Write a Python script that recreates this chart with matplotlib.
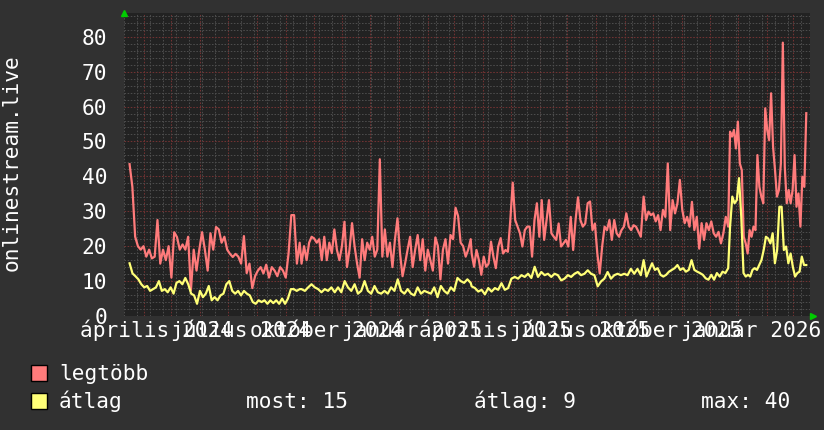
import numpy as np
import pandas as pd
import matplotlib
matplotlib.use("Agg")
import matplotlib.pyplot as plt
from matplotlib.patches import Rectangle

# --- data (5 time stretches, values evenly spaced inside each) ---

seg_edges = [
    ("2024-03-17", "2024-09-16"),
    ("2024-09-18", "2025-03-19"),
    ("2025-03-20", "2025-09-18"),
    ("2025-09-21", "2025-12-21"),
    ("2025-12-23", "2026-03-15"),
]

max_s1 = [43.5, 37, 22.7, 20, 19, 20, 17, 19, 16.5, 17, 27.5, 15, 19, 16, 20, 11, 24, 22.6,
          19, 20.5, 19, 22.7, 7.4, 19, 13, 19, 24, 19, 13, 23.7, 19, 25.5, 24.8, 21, 22.7,
          19, 17.8, 16.9, 17.8, 17, 15, 22.9, 12.3, 15, 8, 11.4, 13, 14, 12.2, 14.7, 11, 14,
          13, 11.4, 14, 13, 11, 17.8, 28.9, 28.9, 15, 21]
max_s2 = [15, 20, 16, 21, 22.7, 22.2, 21, 22, 16, 22.7, 16, 21, 18, 24.8, 19, 16, 20, 27, 14,
          19, 26.6, 20, 15, 11, 22, 16, 21, 19, 22.7, 17, 19, 44.9, 17, 24.8, 17, 21, 14, 22,
          28, 18, 11.4, 15, 19, 22.7, 14, 19, 23.2, 16, 22, 13, 19, 16, 13, 22.5, 20, 10.5,
          19, 22, 15, 23.2, 22, 31, 28.6, 21, 20, 17, 19, 22]
max_s3 = [17.9, 14.1, 18.9, 16, 11.8, 17, 14.1, 15, 21.3, 17, 13.7, 19.9, 22.3, 17.9, 18.9,
          18.4, 27.5, 38.2, 27.5, 25.6, 23.7, 19.9, 24.6, 25.6, 25.6, 17, 27.5, 32.3, 22.7,
          33.2, 21.8, 27.5, 33.2, 23.7, 22.7, 21.8, 26.5, 19.9, 20.8, 21.8, 19.9, 28.4, 18.9,
          27.5, 34, 27.5, 25.6, 26.5, 32.3, 32.8, 24.6, 26.5, 17.9, 12.2, 19.9, 25.6, 24.6,
          27.5, 21.8, 27.5, 23.7, 22.7, 24.6, 25.6, 29.4, 25.6, 24.6, 26, 25.6, 24.2, 22.7]
max_s4 = [34.2, 27.5, 29.9, 28.9, 29.4, 27.1, 28.9, 24.6, 30.4, 28.4, 43.7, 24.6, 33.2, 29.4,
          32.3, 39, 30.4, 26.6, 28.4, 25.6, 32.7, 24.6, 28.4, 19.3, 26.6, 21.8, 26.6, 24.6,
          27.1, 23.7, 22.7, 24.1, 20.8, 23.7, 28.4, 25.6]
max_s5 = [52.8, 51.4, 53.3, 48, 55.7, 43.7, 41.8, 22.7, 20.8, 17.9, 24.6, 22.7, 25.6, 24.6,
          46.1, 37, 34.2, 32.3, 59.5, 53.3, 50.4, 63.8, 48.5, 41.8, 34.2, 36.1, 43.7, 78.3,
          42.8, 32.3, 36.1, 32.3, 36.1, 46.1, 31.3, 35.1, 25.6, 39.9, 37, 58.1]

avg_s1 = [15.1, 12.2, 11.4, 10.5, 9.1, 8.2, 8.6, 7.2, 7.7, 8.2, 10, 7.2, 7.7, 6.8, 8.2, 6.4,
          9.5, 10, 9.1, 10.9, 9.1, 6.4, 5.9, 3.5, 7.2, 5.4, 6.4, 8.6, 4.5, 5.4, 4.5, 5.9, 6.4,
          9.1, 10, 7.2, 6.4, 7.2, 5.9, 7.2, 6.4, 5.9, 4, 3.5, 4.5, 4, 4.5, 3.5, 4.5, 3.7, 4.5,
          3.5, 5, 3.5, 5, 7.7, 7.7, 7.2, 7.7]
avg_s2 = [7.7, 7.2, 8.2, 9.1, 8.2, 7.7, 6.8, 7.7, 7.2, 8.2, 6.8, 8.2, 6.8, 10, 8.2, 7.2, 9.1,
          6.4, 7.2, 10, 7.2, 6.4, 8.6, 6.8, 6.4, 7.2, 6.4, 8.2, 7.2, 10.5, 7.2, 6.4, 7.7, 6.4,
          5.9, 8.2, 6.4, 7.2, 6.8, 6.4, 8.2, 5.4, 8.6, 7.2, 6.4, 8.2, 7.2, 10.9, 10, 9.5, 10.5,
          9.5]
avg_s3 = [8.5, 8, 7, 7.5, 6.2, 8, 7, 8, 7.5, 9.4, 7.5, 8, 10.7, 11.2, 10.7, 11.7, 11.2, 12.1,
          10.9, 14.1, 11.2, 12.6, 11.7, 12.1, 11.2, 12.1, 11.7, 10.2, 10.7, 11.7, 11.2, 12.1,
          12.6, 11.7, 12.1, 13.1, 12.1, 11.7, 8.5, 9.9, 10.7, 12.6, 10.7, 11.7, 12.1, 11.7,
          12.1, 11.7, 13.5, 12.1, 13.5, 11.7]
avg_s4 = [16, 11.3, 13.2, 15.1, 13.2, 13.7, 11.8, 11.3, 11.8, 12.7, 13.2, 13.7, 14.6, 13.2,
          13.7, 12.7, 13.2, 16, 13.2, 12.7, 12.3, 11.8, 10.8, 10.4, 11.8, 10.4, 12.3, 11.3,
          12.7, 12.3, 13.7]
avg_s5 = [25.6, 34.2, 32.3, 33.2, 39.5, 28.4, 12.3, 11.3, 11.8, 11.3, 13.2, 13.7, 13.2, 14.6,
          16, 18.9, 22.7, 22.2, 20.8, 23.7, 15.1, 18.9, 31.3, 31.3, 18.9, 19.9, 15.1, 17.9,
          14.1, 11.3, 12.3, 12.7, 17, 14.6, 14.6]

month_labels = ["április 2024", "július 2024", "október 2024", "január 2025",
                "április 2025", "július 2025", "október 2025", "január 2026"]
label_months = ["2024-04-01", "2024-07-01", "2024-10-01", "2025-01-01",
                "2025-04-01", "2025-07-01", "2025-10-01", "2026-01-01"]

y_title = "onlinestream.live"
legend_names = ["legtöbb", "átlag"]
stats = ["most: 15", "átlag: 9", "max: 40"]


def build(segments):
    xs, ys = [], []
    for (a, b), vals in zip(seg_edges, segments):
        xs.append(pd.date_range(a, b, periods=len(vals)))
        ys.extend(vals)
    return np.concatenate([x.values for x in xs]), np.array(ys)


x_max, y_max = build([max_s1, max_s2, max_s3, max_s4, max_s5])
x_avg, y_avg = build([avg_s1, avg_s2, avg_s3, avg_s4, avg_s5])

# --- colours / fonts ---
BG = "#313131"
PLOT_BG = "#222222"
RED = "#ff7b7b"
YELLOW = "#ffff77"
MONO = "DejaVu Sans Mono"
FS = 15.2

W, H = 824, 430
fig = plt.figure(figsize=(W / 100, H / 100), dpi=100, facecolor=BG)
ax = fig.add_axes([124 / W, (H - 316) / H, (810 - 124) / W, (316 - 13) / H])
ax.set_facecolor(PLOT_BG)

ax.plot(x_max, y_max, color=RED, lw=1.6, zorder=3)
ax.plot(x_avg, y_avg, color=YELLOW, lw=1.6, zorder=4)

ax.set_xlim(pd.Timestamp("2024-03-15"), pd.Timestamp("2026-03-19"))
ax.set_ylim(0, 86.8)

# grid: months (red) + every second monday (grey); 10s red, 2s grey
months = pd.date_range("2024-04-01", "2026-03-01", freq="MS")
fortnights = pd.date_range("2024-03-11", "2026-03-19", freq="2W-MON")
ax.set_xticks(months)
ax.set_xticklabels([])
ax.set_xticks(fortnights, minor=True)
ax.set_yticks(np.arange(0, 81, 10))
ax.set_yticks(np.arange(0, 87, 2), minor=True)
ax.set_axisbelow(True)
dots = (0, (1.5, 1.5))
ax.grid(which="minor", color="#4c4c4c", lw=0.75, linestyle=dots)
ax.grid(which="major", color="#723232", lw=0.75, linestyle=dots)
ax.tick_params(which="both", length=0)
ax.tick_params(axis="y", pad=12, labelcolor="white", labelsize=FS)
for t in ax.get_yticklabels():
    t.set_fontfamily(MONO)
for s in ax.spines.values():
    s.set_visible(False)

# quarter labels, centred half a month after the month start
for lab, m in zip(month_labels, label_months):
    ax.annotate(lab, xy=(pd.Timestamp(m) + pd.Timedelta(days=14), 0),
                xycoords=("data", "axes fraction"), xytext=(0, -21),
                textcoords="offset pixels", ha="center", va="baseline",
                color="white", fontsize=FS, family=MONO, annotation_clip=False)

# little green arrows at the axis ends
ax.plot([0], [1.0], marker="^", color="#00cc00", ms=5, transform=ax.transAxes,
        clip_on=False, zorder=5)
ax.plot([1.004], [0], marker=">", color="#00cc00", ms=5, transform=ax.transAxes,
        clip_on=False, zorder=5)

fig.text(12 / W, 1 - 163 / H, y_title, rotation=90, ha="center", va="center",
         color="white", fontsize=FS, family=MONO)

# legend
for i, (name, col) in enumerate(zip(legend_names, [RED, YELLOW])):
    top = 365 + i * 28
    fig.patches.append(Rectangle((31 / W, 1 - (top + 16) / H), 16 / W, 16 / H,
                                 transform=fig.transFigure, facecolor=col,
                                 edgecolor="black", lw=1))
    fig.text(59 / W, 1 - (380 + i * 28) / H, name, va="baseline", color="white",
             fontsize=FS, family=MONO)
for txt, xpos in zip(stats, [246, 474, 701]):
    fig.text(xpos / W, 1 - 408 / H, txt, va="baseline", color="white",
             fontsize=FS, family=MONO)

fig.savefig("out.png", dpi=100, facecolor=BG)
